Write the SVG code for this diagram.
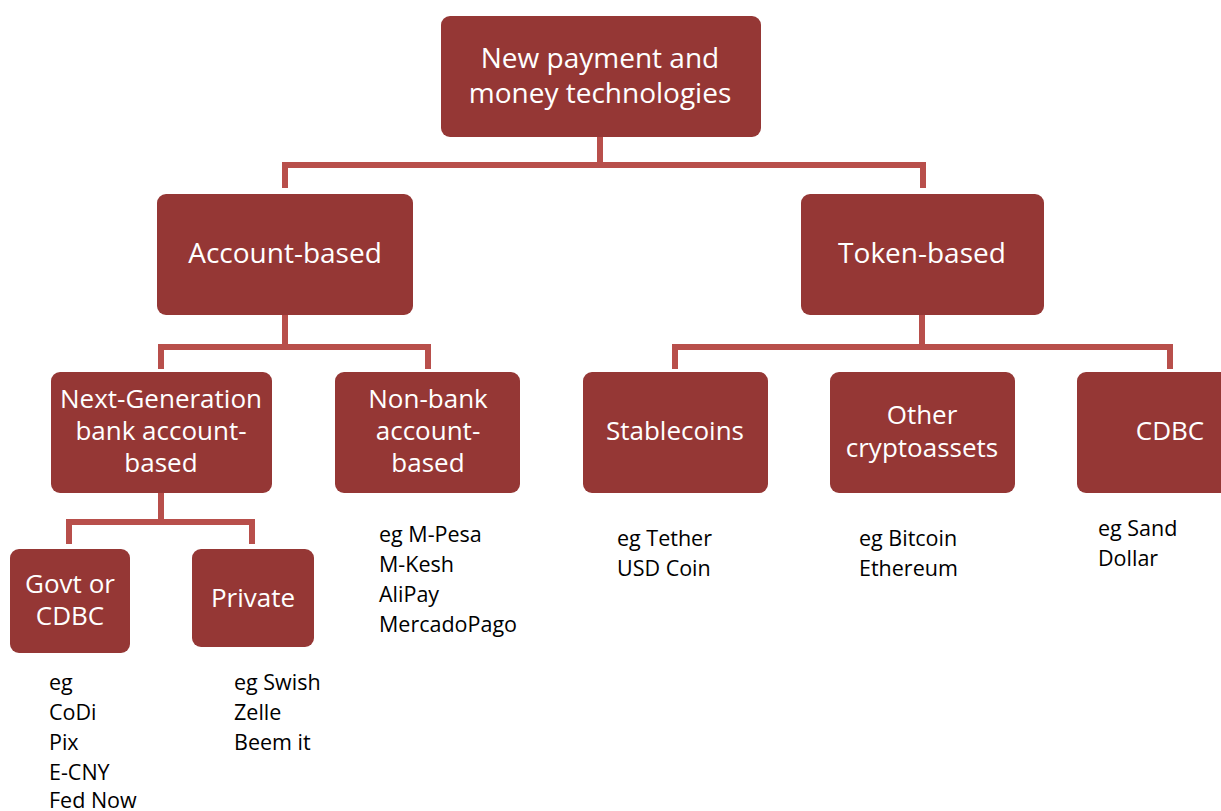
<svg xmlns="http://www.w3.org/2000/svg" width="1221" height="811" viewBox="0 0 1221 811">
<style>
.box{fill:#953735;}
.bt{fill:#ffffff;font-family:"Open Sans","Noto Sans",sans-serif;font-size:26px;text-anchor:middle;}
.big{font-size:28px;}
.ann{fill:#000000;font-family:"Open Sans","Noto Sans",sans-serif;font-size:21.5px;}
.con{fill:none;stroke:#b84f4b;stroke-width:6;}
</style>
<rect width="1221" height="811" fill="#ffffff"/>
<g id="connectors">
<path class="con" d="M600,137 V165 M285,188 V165 H923 V188"/>
<path class="con" d="M285,315 V347 M161,369 V347 H428 V369"/>
<path class="con" d="M922,315 V347 M675,369 V347 H1170 V369"/>
<path class="con" d="M161,493 V522 M69,544 V522 H252 V544"/>
</g>
<g id="n-root"><rect class="box" x="441" y="16" width="320" height="121" rx="9"/>
<text class="bt big" x="600" y="68">New payment and</text><text class="bt big" x="600" y="103">money technologies</text></g>
<g id="n-account"><rect class="box" x="157" y="194" width="256" height="121" rx="9"/>
<text class="bt big" x="285" y="263">Account-based</text></g>
<g id="n-token"><rect class="box" x="801" y="194" width="243" height="121" rx="9"/>
<text class="bt big" x="922" y="263">Token-based</text></g>
<g id="n-nextgen"><rect class="box" x="51" y="372" width="221" height="121" rx="9"/>
<text class="bt" x="161" y="408">Next-Generation</text><text class="bt" x="161" y="440">bank account-</text><text class="bt" x="161" y="472">based</text></g>
<g id="n-nonbank"><rect class="box" x="335" y="372" width="185" height="121" rx="9"/>
<text class="bt" x="428" y="408">Non-bank</text><text class="bt" x="428" y="440">account-</text><text class="bt" x="428" y="472">based</text></g>
<g id="n-stable"><rect class="box" x="583" y="372" width="185" height="121" rx="9"/>
<text class="bt" x="675" y="440">Stablecoins</text></g>
<g id="n-other"><rect class="box" x="830" y="372" width="185" height="121" rx="9"/>
<text class="bt" x="922" y="424">Other</text><text class="bt" x="922" y="457">cryptoassets</text></g>
<g id="n-cdbc"><rect class="box" x="1077" y="372" width="160" height="121" rx="9"/>
<text class="bt" x="1170" y="440">CDBC</text></g>
<g id="n-govt"><rect class="box" x="10" y="549" width="120" height="104" rx="9"/>
<text class="bt" x="70" y="593">Govt or</text><text class="bt" x="70" y="625">CDBC</text></g>
<g id="n-private"><rect class="box" x="192" y="549" width="122" height="98" rx="9"/>
<text class="bt" x="253" y="607">Private</text></g>
<g id="annotations">
<text class="ann" x="379" y="542">eg M-Pesa</text><text class="ann" x="379" y="572">M-Kesh</text><text class="ann" x="379" y="602">AliPay</text><text class="ann" x="379" y="632">MercadoPago</text>
<text class="ann" x="617" y="546">eg Tether</text><text class="ann" x="617" y="576">USD Coin</text>
<text class="ann" x="859" y="546">eg Bitcoin</text><text class="ann" x="859" y="576">Ethereum</text>
<text class="ann" x="1098" y="536">eg Sand</text><text class="ann" x="1098" y="566">Dollar</text>
<text class="ann" x="49" y="690">eg</text><text class="ann" x="49" y="720">CoDi</text><text class="ann" x="49" y="750">Pix</text><text class="ann" x="49" y="780">E-CNY</text><text class="ann" x="49" y="808">Fed Now</text>
<text class="ann" x="234" y="690">eg Swish</text><text class="ann" x="234" y="720">Zelle</text><text class="ann" x="234" y="750">Beem it</text>
</g>
</svg>
